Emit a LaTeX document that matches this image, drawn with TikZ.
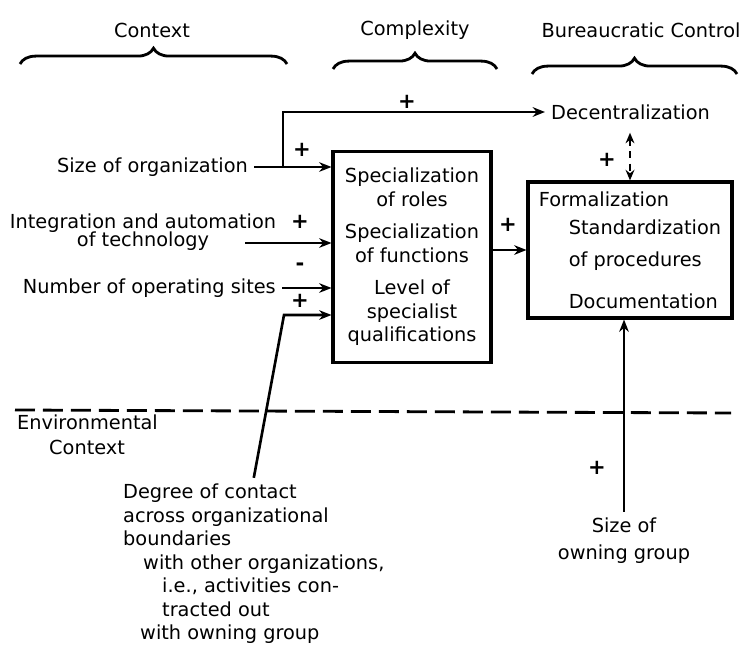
\documentclass[tikz,border=0pt]{standalone}
\usepackage{fontspec}
\setmainfont{DejaVu Sans}
\usetikzlibrary{arrows.meta, decorations.pathreplacing}

\begin{document}
\begin{tikzpicture}[
            x=0.02cm, y=-0.02cm,
            every node/.style={font=\fontsize{11}{13.4}\selectfont},
            box/.style={draw, line width=1.8pt, inner sep=2pt},
            arrow/.style={-{Stealth[length=7pt, width=5.5pt]}, line width=1.5pt},
            dasharrow/.style={{Stealth[length=6pt, width=5pt]}-{Stealth[length=6pt, width=5pt]}, line width=1.3pt, dash pattern=on 4pt off 3pt},
            sepline/.style={line width=1.6pt, dash pattern=on 0.4cm off 0.16cm},
            curly/.style={decorate, decoration={brace, amplitude=9pt}, line width=1.6pt},
            sign/.style={font=\fontsize{12}{12}\selectfont\bfseries, inner sep=0pt}
        ]
        \useasboundingbox (0,0) rectangle (751,666);
        \node (ctxhead) at (152,30) {Context};
        \node (cplxhead) at (415,30) {Complexity};
        \node (bureauhead) at (641,30) {Bureaucratic Control};
        \draw[curly] (20,64) -- (287,64);
        \draw[curly] (333,69) -- (497,69);
        \draw[curly] (532,74) -- (737,74);
        \node[box, minimum width=3.16cm, minimum height=4.22cm, align=center] (cplx) at (412,257) {
            Specialization\\ of roles\\[5pt]
            Specialization\\ of functions\\[5pt]
            Level of\\ specialist\\ qualifications
        };
        \node[box, minimum width=4.08cm, minimum height=2.72cm, align=left] (form) at (630,250) {
            Formalization\\[2.6pt]
            \hspace{0.6cm}Standardization\\[4.8pt]
            \hspace{0.6cm}of procedures\\[10.5pt]
            \hspace{0.6cm}Documentation
        };
        \node[anchor=west] (decent) at (545,112) {Decentralization};
        \node[anchor=east] (size) at (254,167) {Size of organization};
        \node[align=center] (integ) at (143,232) {Integration and automation\\[-3.4pt] of technology};
        \node[anchor=east] (sites) at (282,288) {Number of operating sites};
        \node[align=left, anchor=west] (degree) at (117,564) {
            Degree of contact\\
            across organizational\\
            boundaries\\
            \hspace{0.4cm}with other organizations,\\
            \hspace{0.78cm}i.e., activities con-\\
            \hspace{0.78cm}tracted out\\
            \hspace{0.34cm}with owning group
        };
        \node[align=left, anchor=west] (envctx) at (11,435) {Environmental\\[0.8pt] \hspace{0.64cm}Context};
        \node[align=center] (owning) at (624,541) {Size of\\[2pt] owning group};
        \coordinate (sizejn) at (283,167);
        \coordinate (integin) at (245,243);
        \coordinate (degbend) at (284,315);
        \draw[arrow] (size.east) -- (size.east -| cplx.west);
        \draw[arrow] (sizejn) |- (decent.west);
        \draw[arrow] (integin) -- (integin -| cplx.west);
        \draw[arrow] (sites.east) -- (sites.east -| cplx.west);
        \draw[arrow] (degree.north) -- (degbend) -- (degbend -| cplx.west);
        \draw[arrow] (form.west -| cplx.east) -- (form.west);
        \draw[dasharrow, shorten <=4pt] (form.north |- decent.south) -- (form.north);
        \draw[arrow] (owning.north) -- (owning.north |- form.south);
        \draw[sepline] (15,410) -- (731,413);
        \node[sign] (s1) at (407,102) {+};
        \node[sign] (s2) at (302,150) {+};
        \node[sign] (s3) at (300,222) {+};
        \node[sign] (s4) at (300,267) {-};
        \node[sign] (s5) at (300,301) {+};
        \node[sign] (s6) at (508,225) {+};
        \node[sign] (s7) at (607,160) {+};
        \node[sign] (s8) at (597,468) {+};
        \end{tikzpicture}
\end{document}
